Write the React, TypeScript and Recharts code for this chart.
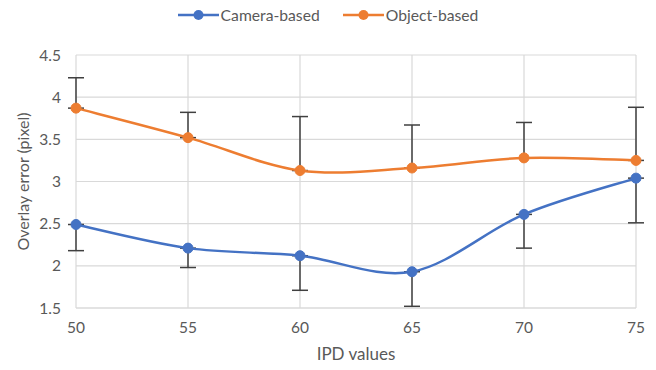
import React from 'react';
import { LineChart, Line, XAxis, YAxis, CartesianGrid, ErrorBar, Legend } from 'recharts';

const ipd = [50, 55, 60, 65, 70, 75];
const camera = [2.49, 2.21, 2.12, 1.93, 2.61, 3.04];
const cameraErrDown = [0.31, 0.23, 0.41, 0.41, 0.4, 0.53];
const objectVals = [3.87, 3.52, 3.13, 3.16, 3.28, 3.25];
const objectErrUp = [0.36, 0.3, 0.64, 0.51, 0.42, 0.63];
const xTicks = [50, 55, 60, 65, 70, 75];
const yTicks = [1.5, 2, 2.5, 3, 3.5, 4, 4.5];

const data = ipd.map((x, i) => ({
  x,
  camera: camera[i],
  cameraErr: [cameraErrDown[i], 0],
  object: objectVals[i],
  objectErr: [0, objectErrUp[i]],
}));

const BLUE = '#4472C4';
const ORANGE = '#ED7D31';
const TEXT = '#595959';
const FONT = 'Lato, "Open Sans", sans-serif';

// Excel-like smoothed curve (Catmull-Rom style Bezier)
const smoothCurve = (context: any) => {
  let pts: number[][] = [];
  return {
    areaStart() {},
    areaEnd() {},
    lineStart() {
      pts = [];
    },
    point(x: number, y: number) {
      pts.push([+x, +y]);
    },
    lineEnd() {
      const n = pts.length;
      if (!n) return;
      context.moveTo(pts[0][0], pts[0][1]);
      for (let i = 0; i < n - 1; i++) {
        const p0 = pts[i - 1] || pts[i];
        const p1 = pts[i];
        const p2 = pts[i + 1];
        const p3 = pts[i + 2] || pts[i + 1];
        const c1x = p1[0] + (p2[0] - p0[0]) / 6;
        const c1y = p1[1] + (p2[1] - p0[1]) / 6;
        const c2x = p2[0] - (p3[0] - p1[0]) / 6;
        const c2y = p2[1] - (p3[1] - p1[1]) / 6;
        context.bezierCurveTo(c1x, c1y, c2x, c2y, p2[0], p2[1]);
      }
    },
  };
};

const LegendContent = () => (
  <div style={{ display: 'flex', justifyContent: 'center', fontFamily: FONT, fontSize: 15.7, color: TEXT, lineHeight: '20px', width: 656 }}>
    {[
      { name: 'Camera-based', color: BLUE },
      { name: 'Object-based', color: ORANGE },
    ].map((it, i) => (
      <div key={it.name} style={{ display: 'flex', alignItems: 'center', marginLeft: i ? 23 : 0 }}>
        <svg width={41} height={12}>
          <line x1={0} y1={6} x2={41} y2={6} stroke={it.color} strokeWidth={2.5} />
          <circle cx={20.5} cy={6} r={5} fill={it.color} />
        </svg>
        <span style={{ marginLeft: 2 }}>{it.name}</span>
      </div>
    ))}
  </div>
);

export default function App() {
  return (
    <div style={{ position: 'absolute', left: 0, top: 0, background: '#fff' }}>
      <LineChart width={656} height={370} data={data} margin={{ top: 35, right: 20, bottom: 14, left: 0 }}>
        <Legend
          verticalAlign="top"
          align="left"
          content={<LegendContent />}
          wrapperStyle={{ top: 5, left: 0, width: 656 }}
        />
        <CartesianGrid stroke="#d9d9d9" strokeWidth={1.2} />
        <XAxis
          dataKey="x"
          type="number"
          domain={[50, 75]}
          ticks={xTicks}
          tickLine={false}
          axisLine={{ stroke: '#d9d9d9', strokeWidth: 1.2 }}
          tickMargin={8}
          tick={{ fill: TEXT, fontSize: 15.5, fontFamily: FONT }}
          height={48}
          label={{ value: 'IPD values', position: 'insideBottom', offset: -4, fill: TEXT, fontSize: 17, fontFamily: FONT }}
        />
        <YAxis
          type="number"
          domain={[1.5, 4.5]}
          ticks={yTicks}
          tickLine={false}
          axisLine={false}
          width={76}
          tickMargin={9}
          tick={{ fill: TEXT, fontSize: 15.5, fontFamily: FONT }}
          label={{
            value: 'Overlay error (pixel)',
            angle: -90,
            position: 'insideLeft',
            dx: 18,
            fill: TEXT,
            fontSize: 16,
            fontFamily: FONT,
            style: { textAnchor: 'middle' },
          }}
        />
        <Line
          dataKey="camera"
          type={smoothCurve as any}
          stroke={BLUE}
          strokeWidth={2.5}
          dot={{ r: 5, fill: BLUE, stroke: BLUE, strokeWidth: 1 }}
          activeDot={false}
          isAnimationActive={false}
        >
          <ErrorBar dataKey="cameraErr" direction="y" width={8} stroke="#404040" strokeWidth={1.5} />
        </Line>
        <Line
          dataKey="object"
          type={smoothCurve as any}
          stroke={ORANGE}
          strokeWidth={2.5}
          dot={{ r: 5, fill: ORANGE, stroke: ORANGE, strokeWidth: 1 }}
          activeDot={false}
          isAnimationActive={false}
        >
          <ErrorBar dataKey="objectErr" direction="y" width={8} stroke="#404040" strokeWidth={1.5} />
        </Line>
      </LineChart>
    </div>
  );
}
